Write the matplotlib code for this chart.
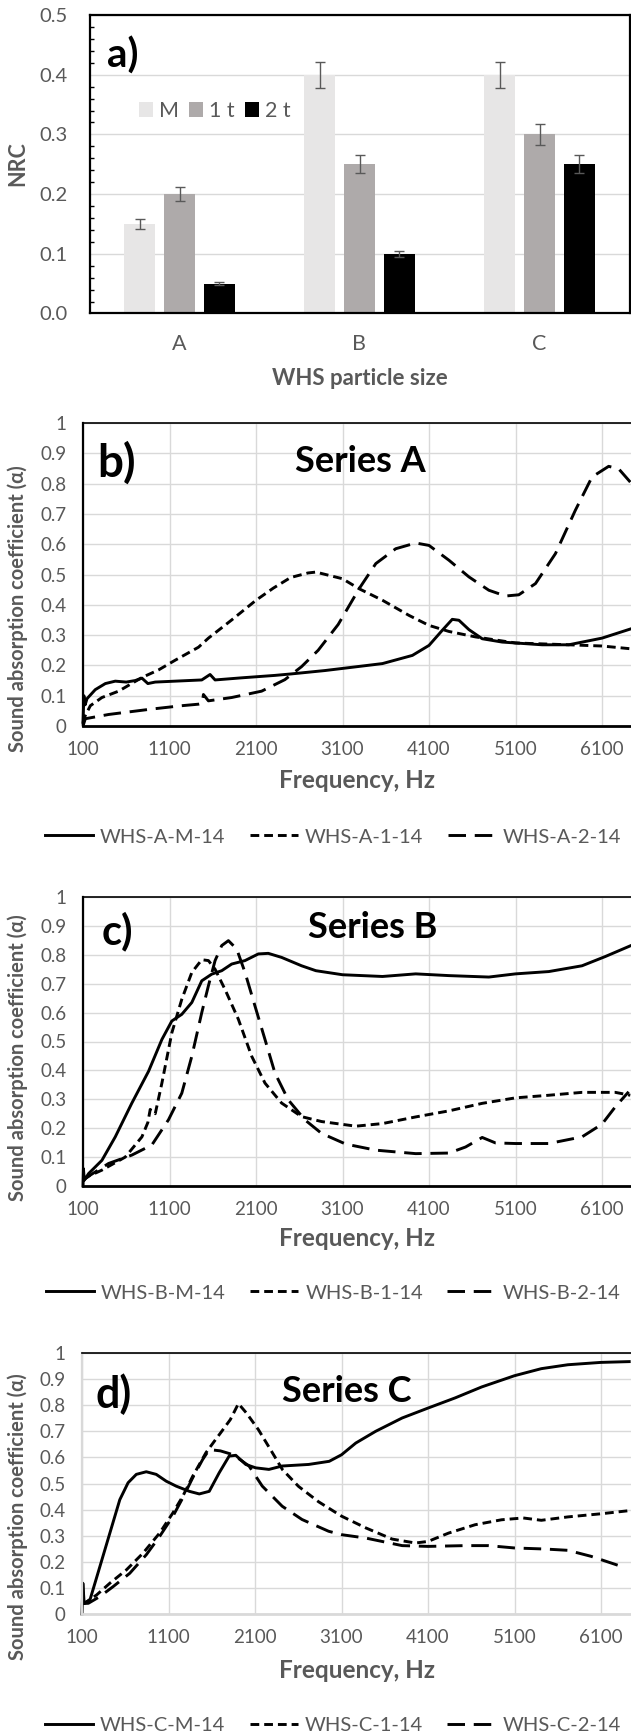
import matplotlib
matplotlib.use("Agg")
import matplotlib.pyplot as plt
import numpy as np
from matplotlib.ticker import MultipleLocator, FormatStrFormatter

plt.rcParams['font.family'] = ['Lato', 'DejaVu Sans']

# ---- data: panel a (NRC) ----
sizes = ['A', 'B', 'C']
nrc_m = [0.15, 0.40, 0.40]
nrc_1t = [0.20, 0.25, 0.30]
nrc_2t = [0.05, 0.10, 0.25]
err_m = [0.008, 0.022, 0.022]
err_1t = [0.012, 0.015, 0.017]
err_2t = [0.003, 0.005, 0.015]

# ---- data: panel b (series A) ----
freq_a_m = [100, 110, 125, 146, 242, 358, 473, 600, 704, 781, 850, 935, 1165, 1473, 1569, 1627,
            1935, 2319, 2511, 2896, 3100, 3562, 3908, 4100, 4254, 4369, 4446, 4562, 4715, 4946,
            5408, 5715, 6100, 6427]
alpha_a_m = [0.01, 0.10, 0.07, 0.09, 0.12, 0.14, 0.148, 0.145, 0.15, 0.158, 0.14, 0.145, 0.148, 0.152,
             0.17, 0.152, 0.159, 0.167, 0.172, 0.183, 0.19, 0.206, 0.233, 0.266, 0.316, 0.352, 0.349,
             0.318, 0.288, 0.277, 0.268, 0.268, 0.29, 0.32]
freq_a_1 = [100, 119, 185, 319, 512, 781, 973, 1165, 1435, 1550, 1819, 2100, 2300, 2500, 2700, 2792,
            3100, 3292, 3562, 3869, 4100, 4331, 4638, 5100, 5715, 6100, 6427]
alpha_a_1 = [0.01, 0.03, 0.067, 0.094, 0.115, 0.16, 0.185, 0.217, 0.26, 0.29, 0.35, 0.415, 0.455, 0.49,
             0.505, 0.508, 0.486, 0.453, 0.415, 0.365, 0.332, 0.312, 0.294, 0.274, 0.268, 0.264, 0.255]
freq_a_2 = [100, 127, 242, 396, 588, 896, 1242, 1435, 1480, 1492, 1550, 1819, 2165, 2434, 2627, 2819,
            3050, 3204, 3292, 3485, 3715, 3946, 4100, 4331, 4562, 4792, 4985, 5138, 5331, 5562, 5792,
            5985, 6177, 6292, 6427]
alpha_a_2 = [0.0, 0.024, 0.03, 0.038, 0.045, 0.056, 0.067, 0.072, 0.075, 0.104, 0.083, 0.094, 0.115,
             0.153, 0.196, 0.25, 0.335, 0.41, 0.453, 0.536, 0.585, 0.604, 0.596, 0.547, 0.492, 0.448,
             0.429, 0.433, 0.47, 0.569, 0.712, 0.822, 0.857, 0.849, 0.805]

# ---- data: panel c (series B) ----
freq_b_m = [100, 105, 115, 165, 319, 473, 665, 858, 1012, 1127, 1242, 1358, 1473, 1588, 1704, 1819,
            1973, 2127, 2242, 2396, 2627, 2792, 3100, 3562, 3946, 4331, 4792, 5100, 5485, 5869, 6138, 6427]
alpha_b_m = [0.0, 0.06, 0.02, 0.043, 0.089, 0.17, 0.287, 0.397, 0.507, 0.571, 0.594, 0.635, 0.71, 0.733,
             0.745, 0.768, 0.78, 0.803, 0.805, 0.791, 0.762, 0.745, 0.731, 0.725, 0.734, 0.728, 0.723,
             0.734, 0.742, 0.762, 0.794, 0.831]
freq_b_1 = [100, 165, 319, 588, 781, 850, 877, 935, 1012, 1127, 1242, 1358, 1473, 1550, 1627, 1742,
            1896, 2050, 2204, 2396, 2627, 2858, 3254, 3562, 3946, 4331, 4715, 5100, 5485, 5869, 6254, 6427]
alpha_b_1 = [0.02, 0.034, 0.055, 0.10, 0.17, 0.22, 0.265, 0.25, 0.356, 0.53, 0.646, 0.739, 0.783, 0.78,
             0.75, 0.68, 0.577, 0.449, 0.356, 0.287, 0.24, 0.223, 0.207, 0.216, 0.239, 0.26, 0.286,
             0.305, 0.314, 0.324, 0.324, 0.314]
freq_b_2 = [100, 165, 396, 665, 896, 1088, 1242, 1358, 1473, 1550, 1627, 1704, 1781, 1877, 1973, 2088,
            2204, 2319, 2473, 2665, 2858, 3138, 3485, 3946, 4331, 4523, 4715, 4869, 5100, 5485, 5869,
            6100, 6254, 6408]
alpha_b_2 = [0.02, 0.034, 0.078, 0.107, 0.142, 0.229, 0.321, 0.449, 0.6, 0.693, 0.78, 0.832, 0.849, 0.82,
             0.739, 0.623, 0.507, 0.391, 0.298, 0.229, 0.182, 0.145, 0.124, 0.112, 0.114, 0.135, 0.168,
             0.149, 0.147, 0.147, 0.17, 0.214, 0.274, 0.326]

# ---- data: panel d (series C) ----
freq_c_m = [100, 110, 125, 192, 307, 422, 537, 633, 728, 843, 958, 1073, 1188, 1341, 1456, 1571, 1686,
            1801, 1878, 1993, 2108, 2261, 2414, 2720, 2958, 3100, 3265, 3495, 3801, 4100, 4414, 4721,
            5100, 5410, 5717, 6100, 6426]
alpha_c_m = [0.0, 0.118, 0.04, 0.054, 0.182, 0.31, 0.438, 0.503, 0.535, 0.545, 0.535, 0.509, 0.49, 0.47,
             0.46, 0.47, 0.541, 0.605, 0.608, 0.573, 0.56, 0.554, 0.567, 0.573, 0.585, 0.61, 0.655, 0.70,
             0.751, 0.789, 0.828, 0.87, 0.913, 0.94, 0.955, 0.964, 0.967]
freq_c_1 = [100, 154, 269, 422, 613, 805, 997, 1150, 1265, 1380, 1533, 1648, 1700, 1815, 1908, 2001,
            2140, 2279, 2418, 2603, 2835, 3100, 3380, 3686, 3954, 4100, 4338, 4644, 4950, 5200, 5410,
            5717, 6100, 6426]
alpha_c_1 = [0.04, 0.047, 0.073, 0.118, 0.169, 0.233, 0.31, 0.387, 0.451, 0.528, 0.618, 0.67, 0.693,
             0.745, 0.806, 0.77, 0.706, 0.63, 0.553, 0.489, 0.43, 0.375, 0.33, 0.287, 0.272, 0.278, 0.31,
             0.342, 0.361, 0.368, 0.359, 0.372, 0.384, 0.396]
freq_c_2 = [100, 173, 307, 460, 652, 843, 997, 1150, 1265, 1380, 1495, 1571, 1700, 1850, 2031, 2184,
            2414, 2644, 2951, 3100, 3380, 3801, 4100, 4529, 4797, 5100, 5449, 5717, 5985, 6311]
alpha_c_2 = [0.04, 0.041, 0.067, 0.105, 0.156, 0.227, 0.297, 0.374, 0.445, 0.522, 0.592, 0.63, 0.625,
             0.61, 0.567, 0.49, 0.413, 0.362, 0.317, 0.304, 0.291, 0.262, 0.259, 0.262, 0.262, 0.253,
             0.249, 0.244, 0.221, 0.185]

freq_ticks = [100, 1100, 2100, 3100, 4100, 5100, 6100]
alpha_ticks = [0, 0.1, 0.2, 0.3, 0.4, 0.5, 0.6, 0.7, 0.8, 0.9, 1]
alpha_labels = ['0', '0.1', '0.2', '0.3', '0.4', '0.5', '0.6', '0.7', '0.8', '0.9', '1']

W, H = 631, 1735
fig = plt.figure(figsize=(W / 100, H / 100), dpi=100)
txt_gray = '#595959'
grid_gray = '#d9d9d9'


def box(l, t, r, b):
    return [l / W, 1 - b / H, (r - l) / W, (b - t) / H]


# --- a) NRC bars ---
ax = fig.add_axes(box(89.5, 15, 629.5, 313.5))
x = np.arange(len(sizes))
bars = [(nrc_m, err_m, '#e7e6e6', 'M'), (nrc_1t, err_1t, '#aeaaaa', '1 t'), (nrc_2t, err_2t, '#000000', '2 t')]
for k, (vals, errs, col, lab) in enumerate(bars):
    ax.bar(x + (k - 1) * 0.222, vals, 0.172, color=col, label=lab, yerr=errs, zorder=3,
           error_kw=dict(ecolor=txt_gray, elinewidth=1, capsize=3.5, capthick=1))
ax.set_xlim(-0.5, 2.5)
ax.set_ylim(0, 0.5)
ax.set_xticks(x)
ax.set_xticklabels(sizes)
ax.yaxis.set_major_locator(MultipleLocator(0.1))
ax.yaxis.set_minor_locator(MultipleLocator(0.02))
ax.yaxis.set_major_formatter(FormatStrFormatter('%.1f'))
ax.tick_params(axis='x', length=0, pad=15, labelsize=15.5, labelcolor=txt_gray)
ax.tick_params(axis='y', which='major', length=0, pad=16, labelsize=14.5, labelcolor=txt_gray)
ax.tick_params(axis='y', which='minor', direction='in', length=3, width=1)
ax.grid(axis='y', color=grid_gray, lw=1, zorder=0)
for s in ax.spines.values():
    s.set_linewidth(1.6)
    s.set_zorder(5)
fig.text(18 / W, 1 - 164 / H, 'NRC', rotation=90, ha='center', va='center',
         fontsize=15.5, fontweight='bold', color=txt_gray)
fig.text(359.5 / W, 1 - 378 / H, 'WHS particle size', ha='center', va='center',
         fontsize=16, fontweight='bold', color=txt_gray)
fig.text(123 / W, 1 - 56 / H, 'a)', ha='center', va='center', fontsize=29, fontweight='bold')
ax.legend(loc='center left', bbox_to_anchor=(128 / W, 1 - 111 / H), bbox_transform=fig.transFigure,
          ncol=3, frameon=False, fontsize=15.5, handlelength=0.65, handleheight=0.65,
          handletextpad=0.3, columnspacing=0.45, borderpad=0, labelcolor=txt_gray)

# --- b), c), d) absorption curves ---
panels = [
    dict(rect=(83, 423, 631, 726), letter='b)', lxy=(117, 463), lsize=33, title='Series A', txy=(360, 461),
         ylab=609, xlab=780, leg=837, curves=[(freq_a_m, alpha_a_m, 'WHS-A-M-14'),
                                             (freq_a_1, alpha_a_1, 'WHS-A-1-14'),
                                             (freq_a_2, alpha_a_2, 'WHS-A-2-14')], edge='k'),
    dict(rect=(83, 897, 631, 1186), letter='c)', lxy=(117, 931), lsize=30, title='Series B', txy=(373, 927),
         ylab=1058, xlab=1239, leg=1293, curves=[(freq_b_m, alpha_b_m, 'WHS-B-M-14'),
                                               (freq_b_1, alpha_b_1, 'WHS-B-1-14'),
                                               (freq_b_2, alpha_b_2, 'WHS-B-2-14')], edge='k'),
    dict(rect=(82, 1353, 631, 1614), letter='d)', lxy=(114, 1394), lsize=31, title='Series C', txy=(347, 1391),
         ylab=1517, xlab=1670, leg=1725, curves=[(freq_c_m, alpha_c_m, 'WHS-C-M-14'),
                                               (freq_c_1, alpha_c_1, 'WHS-C-1-14'),
                                               (freq_c_2, alpha_c_2, 'WHS-C-2-14')], edge=grid_gray),
]
styles = ['-', (0, (3, 1.7)), (0, (6, 3))]

for p in panels:
    l, t, r, b = p['rect']
    ax = fig.add_axes(box(l, t, r, b))
    for (fx, fy, lab), ls in zip(p['curves'], styles):
        ax.plot(fx, fy, color='k', lw=2.1, ls=ls, label=lab, zorder=3, clip_on=False)
    ax.set_xlim(100, 100 + (r - l) / 0.0865)
    ax.set_ylim(0, 1)
    ax.set_xticks(freq_ticks)
    ax.set_yticks(alpha_ticks)
    ax.set_yticklabels(alpha_labels)
    ax.tick_params(length=0, labelsize=13.5, labelcolor=txt_gray)
    ax.tick_params(axis='y', pad=12)
    ax.tick_params(axis='x', pad=11)
    ax.grid(color=grid_gray, lw=1, zorder=0)
    ax.spines['right'].set_visible(False)
    ax.spines['top'].set_linewidth(1.2)
    ax.spines['left'].set_linewidth(1.6)
    ax.spines['bottom'].set_linewidth(2)
    ax.spines['left'].set_color(p['edge'])
    ax.spines['bottom'].set_color(p['edge'])
    for s in ax.spines.values():
        s.set_zorder(4)
    fig.text(p['lxy'][0] / W, 1 - p['lxy'][1] / H, p['letter'], ha='center', va='center',
             fontsize=p['lsize'], fontweight='bold')
    fig.text(p['txy'][0] / W, 1 - p['txy'][1] / H, p['title'], ha='center', va='center',
             fontsize=26, fontweight='bold')
    fig.text(18 / W, 1 - p['ylab'] / H, 'Sound absorption coefficient (α)', rotation=90,
             ha='center', va='center', fontsize=14.5, fontweight='bold', color=txt_gray)
    fig.text(357 / W, 1 - p['xlab'] / H, 'Frequency, Hz', ha='center', va='center',
             fontsize=17.5, fontweight='bold', color=txt_gray)
    fig.legend(*ax.get_legend_handles_labels(), loc='center', bbox_to_anchor=(333 / W, 1 - p['leg'] / H),
               ncol=3, frameon=False, fontsize=14.5, handlelength=2.4, handletextpad=0.35,
               columnspacing=1.2, borderpad=0, labelcolor=txt_gray)

fig.savefig('out.png', dpi=100)
